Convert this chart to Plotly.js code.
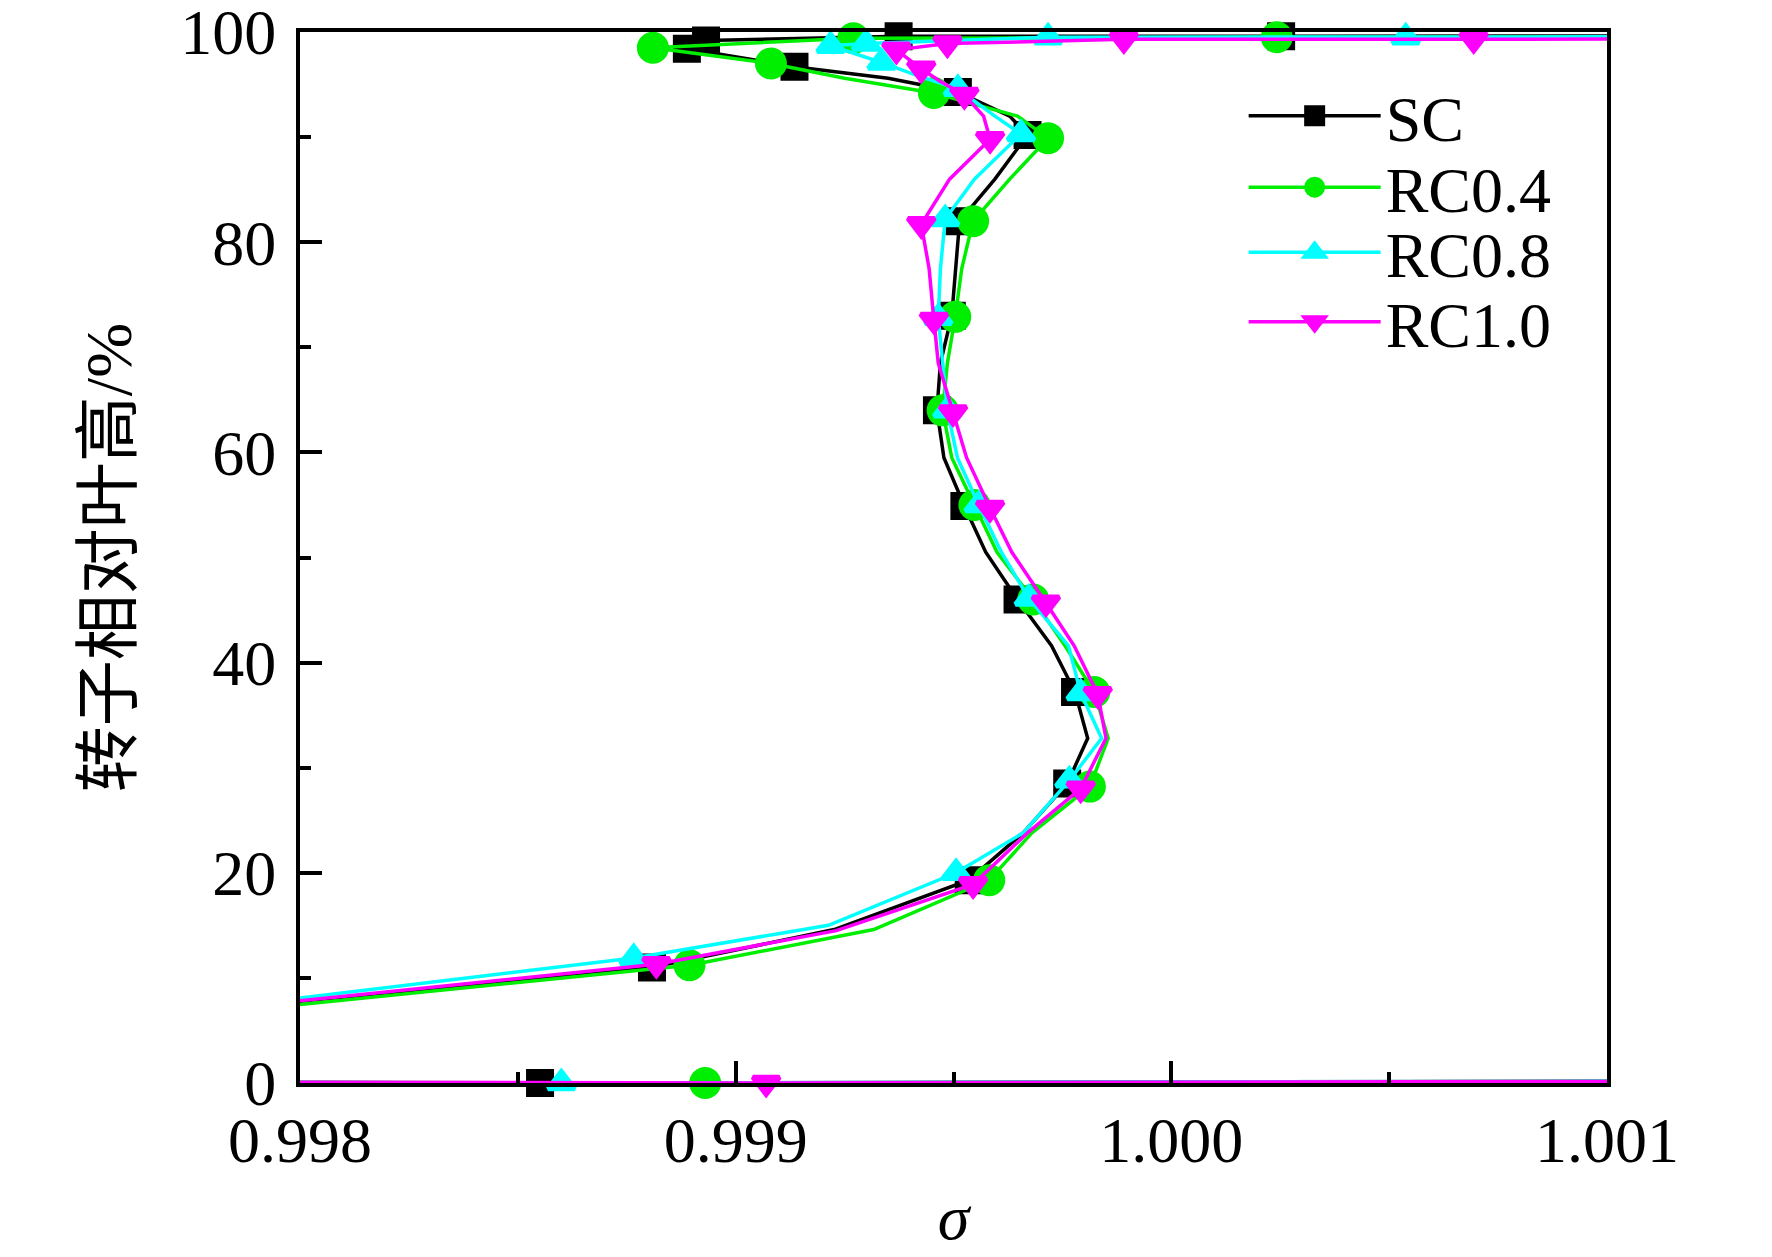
<!DOCTYPE html>
<html>
<head>
<meta charset="utf-8">
<script src="https://cdn.plot.ly/plotly-3.0.1.min.js"></script>
<style>html,body{margin:0;padding:0;background:#fff;}#chart{width:1772px;height:1257px;}</style>
</head>
<body>
<div id="chart"></div>
<script>
// ---- data (sigma, relative blade height %) ----
const seriesNames = ['SC', 'RC0.4', 'RC0.8', 'RC1.0'];

const scX = [1.0030, 0.998551, 0.9950, 0.9975, 0.998808, 0.999226, 0.999535, 0.99966, 0.999761, 0.999808, 0.999779, 0.999725, 0.999647, 0.999574, 0.999525, 0.999478, 0.999462, 0.99947, 0.999496, 0.999506, 0.999514, 0.999595, 0.99967, 0.999629, 0.99951, 0.99935, 0.999135, 0.998888, 0.998932, 0.999374, 1.000252, 1.0030];
const scY = [0.3, 0, 0.3, 5.8, 11.0, 14.6, 19.3, 23.8, 28.5, 32.8, 37.2, 41.6, 46.0, 50.5, 54.9, 59.5, 64.0, 68.5, 73.0, 77.5, 82.0, 86.0, 90.2, 92.0, 94.3, 95.6, 96.7, 98.4, 99.2, 99.6, 99.6, 99.7];
const scMarked = [0, 1, 0, 0, 1, 0, 1, 0, 1, 0, 1, 0, 1, 0, 1, 0, 1, 0, 1, 0, 1, 0, 1, 0, 1, 0, 1, 1, 1, 1, 1, 0];

const rc04X = [1.0030, 0.99893, 0.9950, 0.9975, 0.998894, 0.999317, 0.999582, 0.99968, 0.999813, 0.999855, 0.999823, 0.999756, 0.999683, 0.9996, 0.999548, 0.999496, 0.999475, 0.999486, 0.999504, 0.999519, 0.999545, 0.999629, 0.999717, 0.999647, 0.999455, 0.99925, 0.999081, 0.99881, 0.99927, 1.000242, 1.0030];
const rc04Y = [0.3, 0, 0.3, 5.4, 11.2, 14.6, 19.3, 23.8, 28.2, 32.8, 37.2, 41.6, 46.0, 50.5, 55.0, 59.5, 64.0, 68.5, 72.9, 77.5, 82.0, 86.0, 89.9, 92.0, 94.2, 95.6, 97.0, 98.5, 99.4, 99.5, 99.6];
const rc04Marked = [0, 1, 0, 0, 1, 0, 1, 0, 1, 0, 1, 0, 1, 0, 1, 0, 1, 0, 1, 0, 1, 0, 1, 0, 1, 0, 1, 1, 1, 1, 0];

const rc08X = [1.0030, 0.9986, 0.9950, 0.9975, 0.998766, 0.999213, 0.999506, 0.99966, 0.999766, 0.99984, 0.999792, 0.999764, 0.999673, 0.99961, 0.999558, 0.999509, 0.999486, 0.999475, 0.999465, 0.99947, 0.999481, 0.999548, 0.999655, 0.999595, 0.99951, 0.99942, 0.999335, 0.999218, 0.999299, 0.999717, 1.000538, 1.0030];
const rc08Y = [0.3, 0, 0.3, 5.6, 11.9, 15.0, 20.0, 23.8, 28.8, 32.8, 37.1, 41.6, 46.1, 50.5, 55.0, 59.5, 64.0, 68.5, 72.8, 77.5, 82.2, 86.0, 90.3, 92.0, 94.6, 95.8, 97.1, 98.7, 98.9, 99.5, 99.5, 99.6];
const rc08Marked = [0, 1, 0, 0, 1, 0, 1, 0, 1, 0, 1, 0, 1, 0, 1, 0, 1, 0, 1, 0, 1, 0, 1, 0, 1, 0, 1, 1, 1, 1, 1, 0];

const rc10X = [1.0030, 0.99907, 0.9950, 0.9975, 0.998818, 0.999231, 0.999545, 0.99967, 0.999792, 0.99985, 0.999831, 0.999777, 0.999712, 0.999634, 0.999584, 0.99953, 0.999499, 0.999465, 0.999455, 0.999444, 0.999426, 0.999491, 0.999584, 0.999569, 0.999525, 0.99947, 0.999426, 0.999369, 0.999486, 0.999891, 1.000694, 1.0030];
const rc10Y = [0.3, 0, 0.3, 5.7, 11.3, 14.5, 18.9, 23.8, 28.0, 32.8, 37.0, 41.6, 45.7, 50.5, 54.7, 59.5, 63.8, 68.5, 72.6, 77.5, 81.7, 86.0, 89.8, 92.0, 94.0, 95.3, 96.5, 98.3, 98.9, 99.3, 99.3, 99.6];
const rc10Marked = [0, 1, 0, 0, 1, 0, 1, 0, 1, 0, 1, 0, 1, 0, 1, 0, 1, 0, 1, 0, 1, 0, 1, 0, 1, 0, 1, 1, 1, 1, 1, 0];

const xTickVals = [0.998, 0.999, 1.000, 1.001];
const xTickText = ['0.998', '0.999', '1.000', '1.001'];
const yTickVals = [0, 20, 40, 60, 80, 100];
const yTickText = ['0', '20', '40', '60', '80', '100'];

// ---- styling ----
const FONT = 'Liberation Serif, "Times New Roman", serif';
const seriesStyle = [
  {color: '#000000', symbol: 'square', size: 23},
  {color: '#00ee00', symbol: 'circle', size: 27},
  {color: '#00ffff', symbol: 'triangle-up', size: 23},
  {color: '#ff00ff', symbol: 'triangle-down', size: 23}
];
const MARKER_EDGE = 5;
const legendRowY = [0.920, 0.852, 0.790, 0.724];   // paper positions of legend rows
const xs = [scX, rc04X, rc08X, rc10X];
const ys = [scY, rc04Y, rc08Y, rc10Y];
const marks = [scMarked, rc04Marked, rc08Marked, rc10Marked];

const traces = [];
seriesNames.forEach((name, i) => {
  const st = seriesStyle[i];
  // full profile line
  traces.push({
    type: 'scatter', mode: 'lines', name: name,
    x: xs[i], y: ys[i],
    legend: i === 0 ? 'legend' : 'legend' + (i + 1),
    line: {color: st.color, width: 3.5}
  });
  // symbols at the marked stations
  traces.push({
    type: 'scatter', mode: 'markers', name: ' ',
    x: xs[i].filter((_, k) => marks[i][k]),
    y: ys[i].filter((_, k) => marks[i][k]),
    legend: 'legend' + (i + 5),
    cliponaxis: false,
    marker: {color: st.color, symbol: st.symbol, size: st.size, opacity: 1,
             line: {color: st.color, width: MARKER_EDGE}}
  });
});

const axisCommon = {
  showgrid: false, zeroline: false, showline: true, mirror: true,
  linecolor: '#000', linewidth: 4,
  ticks: 'inside', ticklen: 22, tickwidth: 4, tickcolor: '#000',
  ticklabeloverflow: 'allow',
  tickfont: {family: FONT, size: 64, color: '#000'}
};

function legendAt(yPos) {
  return {
    x: 0.722, y: yPos, xanchor: 'left', yanchor: 'middle',
    bgcolor: 'rgba(0,0,0,0)', borderwidth: 0,
    font: {family: FONT, size: 64, color: '#000'},
    itemwidth: 132
  };
}

const layout = {
  width: 1772, height: 1257,
  margin: {l: 300, r: 165, t: 32, b: 174},
  paper_bgcolor: '#fff', plot_bgcolor: '#fff',
  showlegend: true,
  xaxis: Object.assign({}, axisCommon, {
    range: [0.998, 1.001],
    tickmode: 'array', tickvals: xTickVals, ticktext: xTickText,
    ticklabelstandoff: -2,
    minor: {tickmode: 'linear', tick0: 0.998, dtick: 0.0005, ticks: 'inside', ticklen: 11, tickwidth: 4, tickcolor: '#000'},
    title: {text: '<i>σ</i>', font: {family: FONT, size: 64, color: '#000'}, standoff: 20}
  }),
  yaxis: Object.assign({}, axisCommon, {
    range: [0, 100],
    tickmode: 'array', tickvals: yTickVals, ticktext: yTickText,
    ticklabelstandoff: 7,
    minor: {tickmode: 'linear', tick0: 0, dtick: 10, ticks: 'inside', ticklen: 11, tickwidth: 4, tickcolor: '#000'},
    title: {text: '转子相对叶高/%', font: {family: 'Liberation Serif, "Noto Sans CJK SC", serif', size: 66, color: '#000'}, standoff: 28}
  })
};
layout.legend = legendAt(legendRowY[0]);
for (let k = 1; k < 4; k++) layout['legend' + (k + 1)] = legendAt(legendRowY[k]);
for (let k = 0; k < 4; k++) layout['legend' + (k + 5)] = legendAt(legendRowY[k]);

Plotly.newPlot('chart', traces, layout, {displayModeBar: false, staticPlot: true});
</script>
</body>
</html>
